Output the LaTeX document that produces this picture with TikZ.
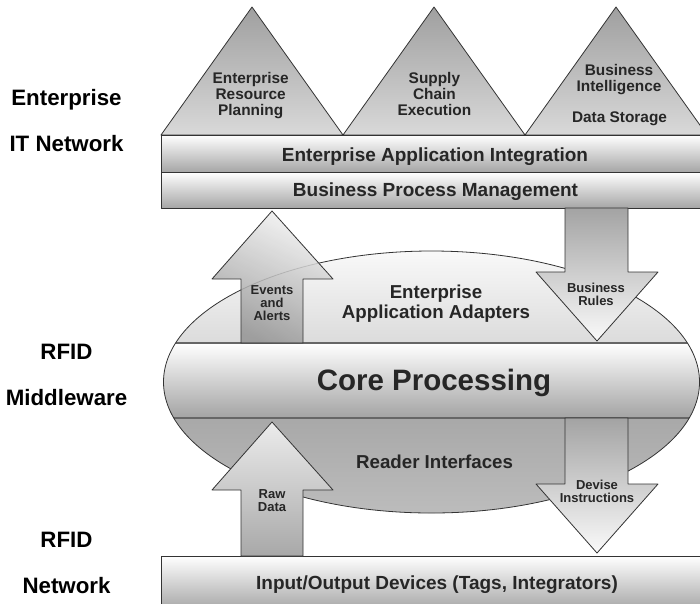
\documentclass[tikz,border=0pt]{standalone}
\usepackage{fontspec}
\setmainfont{Liberation Sans}
\begin{document}
\begin{tikzpicture}[x=1pt,y=-1pt,line join=round,line cap=round,font=\bfseries]
	\tikzset{every node/.style={text=black!85,align=center,inner sep=0pt},
		outl/.style={draw=black!80,line width=0.8pt},
		band/.style={draw=black!60,line width=1.2pt},
		side/.style={text=black,anchor=base,font=\fontsize{22.3}{24}\selectfont\bfseries},
		peak/.style={font=\fontsize{15.4}{16}\selectfont\bfseries},
		layer/.style={anchor=base,font=\fontsize{19}{20}\selectfont\bfseries},
		flow/.style={font=\fontsize{13}{13}\selectfont\bfseries}}
	\useasboundingbox (0,0) rectangle (700,603);
	\clip (0,0) rectangle (700,603);
	\foreach \xl in {161,343,525}
	\shadedraw[outl,top color=gray!75,bottom color=gray!30] (\xl,135)--({\xl+91},7)--({\xl+182},135)--cycle;
	\foreach \yt/\yb in {135/172,172/208,556/610}
	\shadedraw[outl,top color=white,bottom color=gray!70] (161,\yt) rectangle (706,\yb);
	\begin{scope}
		\clip (431.5,382) ellipse [x radius=268,y radius=131];
		\shade[top color=gray!4,bottom color=gray!28] (160,248) rectangle (702,343);
		\shade[top color=white,bottom color=gray!72] (160,343) rectangle (702,418);
		\shade[top color=gray!68,bottom color=gray!52] (160,418) rectangle (702,516);
		\draw[band] (160,343)--(702,343) (160,418)--(702,418);
	\end{scope}
	\draw[outl] (431.5,382) ellipse [x radius=268,y radius=131];
	\shadedraw[outl,fill opacity=0.85,top color=gray!10,bottom color=gray!85,shading angle=-25] (241,343)--(241,279)--(212,279)--(272,211)--(333,279)--(303,279)--(303,343)--cycle;
	\shadedraw[outl,top color=gray!15,bottom color=gray!68] (241,556)--(241,490)--(212,490)--(272,422)--(333,490)--(303,490)--(303,556)--cycle;
	\foreach \s/\t in {208/341,418/553}
	\shadedraw[outl,top color=gray!72,bottom color=gray!4] (565,\s)--(565,{\t-69})--(536,{\t-69})--(597,\t)--(658,{\t-69})--(628,{\t-69})--(628,\s)--cycle;
	\node[side] (ent) at (66.5,105) {Enterprise};
	\node[side] (itn) at (66.5,151) {IT Network};
	\node[side] (rfm) at (66.5,359) {RFID};
	\node[side] (mdw) at (66.5,405) {Middleware};
	\node[side] (rfn) at (66.5,547) {RFID};
	\node[side] (net) at (66.5,593) {Network};
	\node[peak] (erp) at (250.7,96) {Enterprise\\Resource\\Planning};
	\node[peak] (sce) at (434.4,94.3) {Supply\\Chain\\Execution};
	\node[peak] (bi) at (619,79.6) {Business\\Intelligence};
	\node[peak] (dst) at (619.5,118.6) {Data Storage};
	\node[layer] (eai) at (435,161) {Enterprise Application Integration};
	\node[layer] (bpm) at (435.5,196) {Business Process Management};
	\node[font=\fontsize{18.7}{20}\selectfont\bfseries] (eaa) at (436,304) {Enterprise\\Application Adapters};
	\node[anchor=base,font=\fontsize{29.5}{30}\selectfont\bfseries] (core) at (434,390) {Core Processing};
	\node[layer,font=\fontsize{18.7}{20}\selectfont\bfseries] (rdi) at (434.6,468.3) {Reader Interfaces};
	\node[layer] (iod) at (437,589) {Input/Output Devices (Tags, Integrators)};
	\node[flow] (eva) at (272,302.6) {Events\\and\\Alerts};
	\node[flow] (raw) at (272,501) {Raw\\Data};
	\node[flow] (bru) at (596,294.7) {Business\\Rules};
	\node[flow] (dvi) at (597,491.3) {Devise\\Instructions};
\end{tikzpicture}
\end{document}
